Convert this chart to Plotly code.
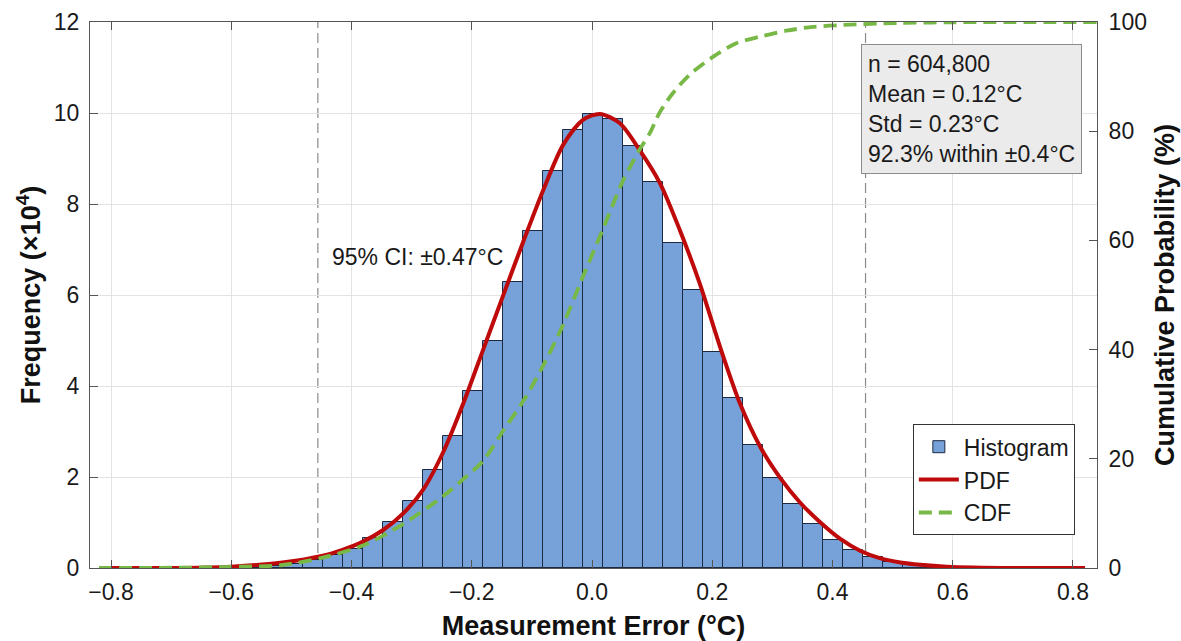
import plotly.graph_objects as go

# ---------------- data ----------------
# Histogram: counts in units of 10^4, equal-width bins
bin_start = -0.581
bin_width = 0.0333
hist_counts = [0.02, 0.04, 0.08, 0.18, 0.28, 0.42, 0.67, 1.02, 1.47, 2.15,
               2.90, 3.90, 5.00, 6.29, 7.41, 8.73, 9.63, 9.98, 9.86, 9.28,
               8.48, 7.15, 6.12, 4.75, 3.74, 2.70, 1.97, 1.40, 0.97, 0.62,
               0.39, 0.25, 0.14, 0.08, 0.04, 0.02]

# Fitted PDF curve (same units as histogram)
pdf_x = [-0.82, -0.70, -0.60, -0.515, -0.448, -0.415, -0.381, -0.348, -0.314,
         -0.280, -0.247, -0.214, -0.181, -0.148, -0.115, -0.081, -0.048,
         -0.015, 0.013, 0.046, 0.079, 0.113, 0.146, 0.179, 0.213, 0.246,
         0.280, 0.313, 0.346, 0.380, 0.413, 0.446, 0.480, 0.513, 0.546,
         0.590, 0.70, 0.82]
pdf_y = [0.0, 0.0, 0.03, 0.12, 0.27, 0.40, 0.58, 0.83, 1.20,
         1.74, 2.56, 3.62, 4.80, 5.98, 7.15, 8.31, 9.30,
         9.85, 9.98, 9.78, 9.19, 8.46, 7.43, 6.26, 4.86, 3.62,
         2.66, 1.98, 1.44, 1.00, 0.64, 0.38, 0.21, 0.12, 0.07,
         0.03, 0.0, 0.0]

# Cumulative distribution (%)
cdf_x = [-0.82, -0.70, -0.60, -0.515, -0.448, -0.381, -0.315, -0.248, -0.215,
         -0.182, -0.148, -0.113, -0.082, -0.049, -0.015, 0.018, 0.051, 0.079,
         0.096, 0.112, 0.134, 0.162, 0.201, 0.240, 0.279, 0.323, 0.367, 0.417,
         0.506, 0.600, 0.840]
cdf_y = [0.0, 0.05, 0.2, 0.55, 1.9, 4.1, 8.0, 13.1, 16.2,
         19.5, 25.1, 30.8, 36.9, 44.3, 53.4, 62.0, 70.8, 76.6,
         79.6, 83.3, 86.9, 90.3, 93.6, 96.1, 97.3, 98.4, 99.1, 99.45,
         99.8, 99.95, 100.0]

ci_lower = -0.456
ci_upper = 0.455
ci_label = "95% CI: ±0.47°C"
ci_label_x = -0.435
ci_label_y = 6.84

stats_lines = ["n = 604,800", "Mean = 0.12°C", "Std = 0.23°C", "92.3% within ±0.4°C"]

x_ticks = [-0.8, -0.6, -0.4, -0.2, 0.0, 0.2, 0.4, 0.6, 0.8]
y_ticks = [0, 2, 4, 6, 8, 10, 12]
y2_ticks = [0, 20, 40, 60, 80, 100]

# ---------------- styling ----------------
FONT = "Liberation Sans, Arial, Helvetica, sans-serif"
BAR_FILL = "rgb(118,162,217)"
BAR_EDGE = "#1c2940"
PDF_COLOR = "#BE0A0A"
CDF_COLOR = "#78B846"
GRID = "#E3E3E3"
AXIS = "#555555"
TXT = "#1a1a1a"

bin_centers = [bin_start + bin_width * (i + 0.5) for i in range(len(hist_counts))]

fig = go.Figure()

fig.add_trace(go.Bar(
    x=bin_centers, y=hist_counts, width=bin_width, name="Histogram",
    marker=dict(color=BAR_FILL, line=dict(color=BAR_EDGE, width=1)),
    yaxis="y",
))

fig.add_trace(go.Scatter(
    x=pdf_x, y=pdf_y, mode="lines", name="PDF",
    line=dict(color=PDF_COLOR, width=4, shape="spline", smoothing=0.8),
    yaxis="y",
))

fig.add_trace(go.Scatter(
    x=cdf_x, y=cdf_y, mode="lines", name="CDF",
    line=dict(color=CDF_COLOR, width=3.8, dash="13px,7px", shape="spline", smoothing=0.8),
    yaxis="y2",
))

for xv in (ci_lower, ci_upper):
    fig.add_shape(type="line", xref="x", yref="paper", x0=xv, x1=xv, y0=0, y1=1,
                  line=dict(color="#8a8a8a", width=1.2, dash="10px,5px"), layer="below")

fig.add_annotation(
    x=ci_label_x, y=ci_label_y, xref="x", yref="y", text=ci_label,
    showarrow=False, xanchor="left", yanchor="middle",
    font=dict(family=FONT, size=23, color=TXT),
)

fig.add_annotation(
    x=0.7653, y=0.959, xref="paper", yref="paper",
    text="<br>".join(stats_lines), align="left",
    showarrow=False, xanchor="left", yanchor="top",
    font=dict(family=FONT, size=23, color=TXT),
    bgcolor="#EBEBEB", bordercolor="#8c8c8c", borderwidth=1, borderpad=6,
)

fig.update_layout(
    width=1181, height=641,
    margin=dict(l=90, r=84, t=22, b=73),
    paper_bgcolor="white", plot_bgcolor="white",
    font=dict(family=FONT, size=23, color=TXT),
    bargap=0,
    showlegend=True,
    legend=dict(
        x=0.978, y=0.06, xanchor="right", yanchor="bottom",
        bgcolor="white", bordercolor="#333333", borderwidth=1,
        font=dict(family=FONT, size=23, color=TXT),
        tracegroupgap=0, itemwidth=40,
    ),
    xaxis=dict(
        range=[-0.835, 0.84], tickvals=x_ticks, tickformat=".1f",
        showgrid=True, gridcolor=GRID, gridwidth=1, zeroline=False,
        showline=True, linecolor=AXIS, linewidth=1, mirror="ticks",
        ticks="inside", ticklen=8, tickcolor=AXIS,
        ticklabelstandoff=3,
        tickfont=dict(family=FONT, size=23, color=TXT),
        title=dict(text="<b>Measurement Error (°C)</b>", standoff=15,
                   font=dict(family=FONT, size=27, color="#111")),
        automargin=False,
    ),
    yaxis=dict(
        range=[0, 12], tickvals=y_ticks,
        showgrid=True, gridcolor=GRID, gridwidth=1, zeroline=False,
        showline=True, linecolor=AXIS, linewidth=1,
        ticks="inside", ticklen=8, tickcolor=AXIS,
        ticklabelstandoff=5,
        tickfont=dict(family=FONT, size=23, color=TXT),
        title=dict(text="<b>Frequency (×10<sup>4</sup>)</b>", standoff=5,
                   font=dict(family=FONT, size=27, color="#111")),
        automargin=False,
    ),
    yaxis2=dict(
        range=[0, 100], tickvals=y2_ticks, overlaying="y", side="right",
        showgrid=False, zeroline=False,
        showline=True, linecolor=AXIS, linewidth=1,
        ticks="inside", ticklen=8, tickcolor=AXIS,
        ticklabelstandoff=6,
        tickfont=dict(family=FONT, size=23, color=TXT),
        title=dict(text="<b>Cumulative Probability (%)</b>", standoff=9,
                   font=dict(family=FONT, size=27, color="#111")),
        automargin=False,
    ),
)

# remove the browser's default 8px page margin so the 1181x641 figure fills the window
fig.write_html("out.html", config={"displayModeBar": False},
               post_script="document.body.style.margin='0px';")
